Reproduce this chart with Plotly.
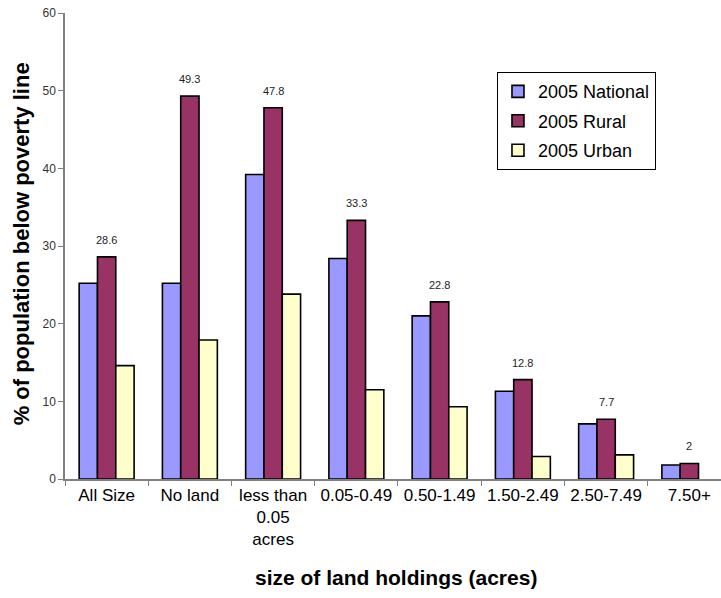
import plotly.graph_objects as go

# Land-holding size classes (x axis)
categories = ["All Size", "No land", "less than<br>0.05<br>acres", "0.05-0.49",
              "0.50-1.49", "1.50-2.49", "2.50-7.49", "7.50+"]

# Share of population below the poverty line, 2005 (%)
national = [25.2, 25.2, 39.2, 28.4, 21.0, 11.3, 7.1, 1.8]
rural = [28.6, 49.3, 47.8, 33.3, 22.8, 12.8, 7.7, 2.0]
urban = [14.6, 17.9, 23.8, 11.5, 9.3, 2.9, 3.1, None]

y_ticks = [0, 10, 20, 30, 40, 50, 60]

series = [
    ("2005 National", national, "#9999FF"),
    ("2005 Rural", rural, "#993366"),
    ("2005 Urban", urban, "#FFFFCC"),
]

FONT = "Arial, Liberation Sans"

fig = go.Figure()
for name, vals, color in series:
    fig.add_trace(go.Bar(
        name=name, x=categories, y=vals,
        marker=dict(color=color, line=dict(color="black", width=1.6)),
        legendgroup=name,
    ))

# Value labels above the rural bars
for cat, v in zip(categories, rural):
    fig.add_annotation(
        x=cat, y=v, xref="x", yref="y", text=f"{v:g}", showarrow=False,
        yshift=17, font=dict(family=FONT, size=11, color="#222"),
    )

# Axis titles
fig.add_annotation(
    text="% of population below poverty line", xref="paper", yref="paper",
    x=-0.066, y=0.505, xanchor="center", yanchor="middle", textangle=-90,
    showarrow=False,
    font=dict(family=FONT, size=22, color="black", weight="bold"),
)
fig.add_annotation(
    text="size of land holdings (acres)", xref="paper", yref="paper",
    x=0.504, y=-0.212, xanchor="center", yanchor="middle", showarrow=False,
    font=dict(family=FONT, size=21, color="black", weight="bold"),
)

fig.update_layout(
    width=721, height=598,
    margin=dict(l=65, r=0, t=13, b=119),
    plot_bgcolor="white", paper_bgcolor="white",
    barmode="group", bargap=0.34, bargroupgap=0,
    font=dict(family=FONT, color="black"),
    showlegend=True,
    legend=dict(
        x=0.6585, y=0.873, xanchor="left", yanchor="top",
        bgcolor="white", bordercolor="black", borderwidth=1,
        font=dict(family=FONT, size=18, color="black"),
        tracegroupgap=3, itemwidth=30,
    ),
    xaxis=dict(
        type="category", range=[-0.5, 7.38],
        tickson="boundaries", ticks="outside", ticklen=5, tickcolor="#808080",
        showline=True, linecolor="#808080", linewidth=1.5,
        showgrid=False, zeroline=False,
        tickfont=dict(family=FONT, size=17, color="black"),
    ),
    yaxis=dict(
        range=[0, 60], tickvals=y_ticks, ticks="outside", ticklen=5,
        tickcolor="#808080", showline=True, linecolor="#808080", linewidth=1.5,
        showgrid=False, zeroline=False,
        tickfont=dict(family=FONT, size=12, color="#333"),
    ),
)

fig.write_html("out.html")
